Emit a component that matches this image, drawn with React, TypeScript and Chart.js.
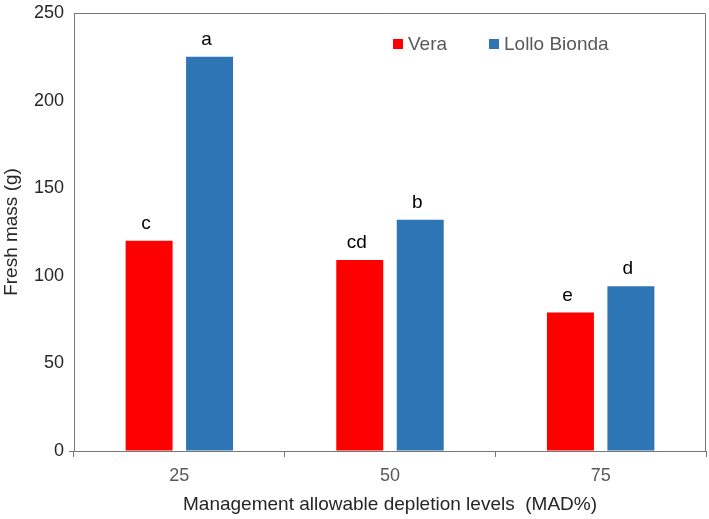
import React, { useEffect, useRef } from "react";
import { Chart, registerables } from "chart.js";

Chart.register(...registerables);

const categories = ["25", "50", "75"];
const veraValues = [120, 109, 79];
const lolloValues = [225, 132, 94];
const veraLetters = ["c", "cd", "e"];
const lolloLetters = ["a", "b", "d"];
const seriesNames = ["Vera", "Lollo Bionda"];
const seriesColors = ["#FF0000", "#2E75B6"];
const yTitle = "Fresh mass (g)";
const xTitle = "Management allowable depletion levels  (MAD%)";

const FONT = "'Liberation Sans', Arial, sans-serif";
const AXIS_COLOR = "#767676";

const framePlugin = {
  id: "frame",
  afterDraw(chart: any) {
    const { ctx, chartArea } = chart;
    ctx.save();
    ctx.strokeStyle = AXIS_COLOR;
    ctx.lineWidth = 1;
    ctx.beginPath();
    ctx.moveTo(chartArea.left, chartArea.top + 0.5);
    ctx.lineTo(chartArea.right - 0.5, chartArea.top + 0.5);
    ctx.lineTo(chartArea.right - 0.5, chartArea.bottom);
    ctx.stroke();
    ctx.restore();
  },
};

const lettersPlugin = {
  id: "letters",
  afterDatasetsDraw(chart: any) {
    const { ctx } = chart;
    const letterSets = [veraLetters, lolloLetters];
    ctx.save();
    ctx.font = `19px ${FONT}`;
    ctx.fillStyle = "#000000";
    ctx.textAlign = "center";
    ctx.textBaseline = "alphabetic";
    chart.data.datasets.forEach((ds: any, di: number) => {
      const meta = chart.getDatasetMeta(di);
      meta.data.forEach((bar: any, i: number) => {
        ctx.fillText(letterSets[di][i], bar.x - 3, bar.y - 12);
      });
    });
    ctx.restore();
  },
};

const legendPlugin = {
  id: "customLegend",
  afterDraw(chart: any) {
    const { ctx } = chart;
    const starts = [393, 489];
    const cy = 44;
    ctx.save();
    ctx.font = `19px ${FONT}`;
    ctx.textBaseline = "middle";
    ctx.textAlign = "left";
    seriesNames.forEach((name, i) => {
      ctx.fillStyle = seriesColors[i];
      ctx.fillRect(starts[i], cy - 5, 10, 10);
      ctx.fillStyle = "#595959";
      ctx.fillText(name, starts[i] + 15, cy + 1);
    });
    ctx.restore();
  },
};

export default function App() {
  const canvasRef = useRef<HTMLCanvasElement | null>(null);

  useEffect(() => {
    if (!canvasRef.current) return;
    const chart = new Chart(canvasRef.current, {
      type: "bar",
      data: {
        labels: categories,
        datasets: [
          {
            label: seriesNames[0],
            data: veraValues,
            backgroundColor: seriesColors[0],
            categoryPercentage: 0.574,
            barPercentage: 0.777,
          },
          {
            label: seriesNames[1],
            data: lolloValues,
            backgroundColor: seriesColors[1],
            categoryPercentage: 0.574,
            barPercentage: 0.777,
          },
        ],
      },
      options: {
        animation: false,
        responsive: true,
        maintainAspectRatio: false,
        layout: { padding: { top: 13, right: 3, left: 0, bottom: 0 } },
        plugins: {
          legend: { display: false },
          tooltip: { enabled: false },
        },
        scales: {
          x: {
            offset: true,
            grid: {
              offset: true,
              drawOnChartArea: false,
              tickLength: 6,
              color: AXIS_COLOR,
            },
            border: { color: AXIS_COLOR, width: 1 },
            ticks: {
              color: "#595959",
              font: { family: FONT, size: 18 },
              padding: 8,
            },
            title: {
              display: true,
              text: xTitle,
              color: "#262626",
              font: { family: FONT, size: 19 },
              padding: { top: 0, bottom: 3 },
            },
            afterFit(scale: any) {
              scale.height = 68;
              scale.paddingLeft = 0;
              scale.paddingRight = 0;
            },
          },
          y: {
            min: 0,
            max: 250,
            ticks: {
              stepSize: 50,
              color: "#262626",
              font: { family: FONT, size: 18 },
              padding: 5,
            },
            grid: {
              drawOnChartArea: false,
              tickLength: 5,
              color: (ctx: any) => (ctx.tick && ctx.tick.value === 0 ? AXIS_COLOR : "rgba(0,0,0,0)"),
            },
            border: { color: AXIS_COLOR, width: 1 },
            title: {
              display: true,
              text: yTitle,
              color: "#262626",
              font: { family: FONT, size: 19 },
              padding: 0,
            },
            afterFit(scale: any) {
              scale.width = 74;
              scale.paddingTop = 0;
              scale.paddingBottom = 0;
            },
          },
        },
      },
      plugins: [framePlugin, lettersPlugin, legendPlugin],
    });
    return () => chart.destroy();
  }, []);

  return (
    <div style={{ position: "fixed", left: 0, top: 0, width: 709, height: 519, background: "#ffffff" }}>
      <canvas ref={canvasRef} />
    </div>
  );
}
